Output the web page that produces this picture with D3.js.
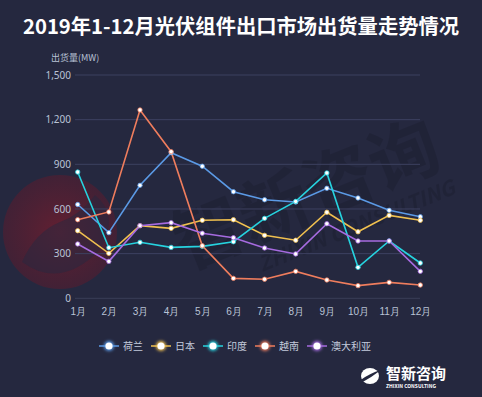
<!DOCTYPE html>
<html>
<head>
<meta charset="utf-8">
<script src="https://cdn.jsdelivr.net/npm/d3@7"></script>
<style>
	html, body { padding: 0; margin: 0; background: #25283f; }
	svg { display: block; font-family: "Noto Sans CJK SC", "Noto Sans", sans-serif; }
</style>
</head>
<body>
<script>
var width = 482, height = 397;

// data
var months = ['1月','2月','3月','4月','5月','6月','7月','8月','9月','10月','11月','12月'];
var yTicks = [0, 300, 600, 900, 1200, 1500];
var netherlands = [630, 441, 759, 978, 887, 716, 662, 647, 739, 674, 591, 548];
var japan       = [454, 302, 488, 470, 524, 528, 423, 390, 578, 447, 557, 524];
var india       = [848, 340, 376, 342, 349, 380, 537, 651, 842, 208, 385, 237];
var vietnam     = [528, 580, 1265, 985, 353, 134, 128, 181, 123, 85, 107, 89];
var australia   = [365, 248, 488, 508, 437, 407, 338, 298, 501, 385, 385, 181];
var names = ['荷兰', '日本', '印度', '越南', '澳大利亚'];
var colors = ['#5b9ae6', '#f0c04f', '#26d3df', '#ef7d5d', '#a66be0'];
var series = [netherlands, japan, india, vietnam, australia];

var svg = d3.select('body').append('svg')
	.attr('width', width)
	.attr('height', height);

svg.append('rect').attr('width', width).attr('height', height).attr('fill', '#25283f');

var defs = svg.append('defs');
var grad = defs.append('radialGradient').attr('id', 'wmred');
grad.append('stop').attr('offset', '0%').attr('stop-color', '#7e1c2c').attr('stop-opacity', 0.7);
grad.append('stop').attr('offset', '100%').attr('stop-color', '#5e1a2c').attr('stop-opacity', 0.5);
var glow = defs.append('filter').attr('id', 'glow').attr('x', '-100%').attr('y', '-100%').attr('width', '300%').attr('height', '300%');
glow.append('feGaussianBlur').attr('stdDeviation', 1.6);

// watermark
var wm = svg.append('g');
wm.append('circle').attr('cx', 60).attr('cy', 232).attr('r', 57).attr('fill', 'url(#wmred)');
wm.append('path')
	.attr('d', 'M 22 262 Q 60 290 100 250 Q 120 215 95 195 Q 80 215 60 222 Q 35 232 22 262 Z')
	.attr('fill', '#25283f').attr('opacity', 0.5);
wm.append('text')
	.attr('transform', 'translate(186,270) rotate(-22)')
	.attr('font-size', 70).attr('font-weight', 'bold')
	.attr('fill', '#1e2033').attr('opacity', 0.6)
	.text('智新咨询');
wm.append('text')
	.attr('transform', 'translate(262,272) rotate(-22)')
	.attr('font-size', 21).attr('font-weight', 'bold').attr('font-style', 'italic')
	.attr('fill', '#1e2033').attr('opacity', 0.6)
	.text('ZHIXIN CONSULTING');

// title
svg.append('text')
	.attr('x', 241).attr('y', 34)
	.attr('text-anchor', 'middle')
	.attr('font-size', 20.3).attr('font-weight', 'bold')
	.attr('fill', '#ffffff')
	.text('2019年1-12月光伏组件出口市场出货量走势情况');

var x = d3.scalePoint().domain(months).range([77.7, 420.3]);
var y = d3.scaleLinear().domain([0, 1500]).range([298.3, 75]);

// grid
svg.append('g').selectAll('line').data(yTicks).join('line')
	.attr('x1', 75).attr('x2', 420)
	.attr('y1', d => y(d)).attr('y2', d => y(d))
	.attr('stroke', d => d === 0 ? '#3a3e58' : '#3d4160').attr('stroke-width', 1);

var yAxis = svg.append('g').attr('transform', 'translate(71,0)')
	.call(d3.axisLeft(y).tickValues(yTicks).tickSize(0).tickPadding(0).tickFormat(d3.format(',')));
yAxis.select('.domain').remove();
yAxis.selectAll('text').attr('font-size', 10).attr('fill', '#b9c3d6').attr('font-family', '"Noto Sans", sans-serif');

var xAxis = svg.append('g').attr('transform', 'translate(0,305)')
	.call(d3.axisBottom(x).tickSize(0).tickPadding(3));
xAxis.select('.domain').remove();
xAxis.selectAll('text').attr('font-size', 10).attr('fill', '#b9c3d6');

svg.append('text')
	.attr('x', 51).attr('y', 61)
	.attr('font-size', 9).attr('fill', '#b9c3d6')
	.text('出货量(MW)');

// lines
var line = d3.line().x((d, i) => x(months[i])).y(d => y(d));
series.forEach(function(s, k) {
	svg.append('path').datum(s)
		.attr('d', line)
		.attr('fill', 'none')
		.attr('stroke', colors[k])
		.attr('stroke-width', 1.6);
});
series.forEach(function(s, k) {
	svg.append('g').selectAll('circle').data(s).join('circle')
		.attr('cx', (d, i) => x(months[i]))
		.attr('cy', d => y(d))
		.attr('r', 2.2)
		.attr('fill', '#ffffff')
		.attr('stroke', colors[k])
		.attr('stroke-width', 0.8);
});

// legend
var legendX = [99, 151, 203, 255, 307];
var legend = svg.append('g').attr('transform', 'translate(0,346)');
names.forEach(function(n, k) {
	var g = legend.append('g').attr('transform', 'translate(' + legendX[k] + ',0)');
	g.append('line').attr('x1', 0).attr('x2', 20).attr('stroke', colors[k]).attr('stroke-width', 1.5);
	g.append('circle').attr('cx', 10).attr('r', 5).attr('fill', colors[k]).attr('filter', 'url(#glow)');
	g.append('circle').attr('cx', 10).attr('r', 3.6).attr('fill', '#ffffff');
	g.append('text').attr('x', 24).attr('y', 4)
		.attr('font-size', 10).attr('fill', '#c3cbdc')
		.text(n);
});

// logo bottom right
var logo = svg.append('g').attr('transform', 'translate(370,376)');
logo.append('ellipse').attr('cx', 0).attr('cy', 0).attr('rx', 9).attr('ry', 8).attr('fill', '#ffffff');
logo.append('path').attr('d', 'M -11 5 Q 0 -3 11 -6 Q 2 1 -9 7 Z').attr('fill', '#25283f');
logo.append('text').attr('x', 16).attr('y', 3)
	.attr('font-size', 15).attr('font-weight', 'bold').attr('fill', '#ffffff')
	.text('智新咨询');
logo.append('text').attr('x', 16).attr('y', 12)
	.attr('font-size', 5).attr('font-weight', 'bold').attr('fill', '#ffffff')
	.text('ZHIXIN CONSULTING');
</script>
</body>
</html>
